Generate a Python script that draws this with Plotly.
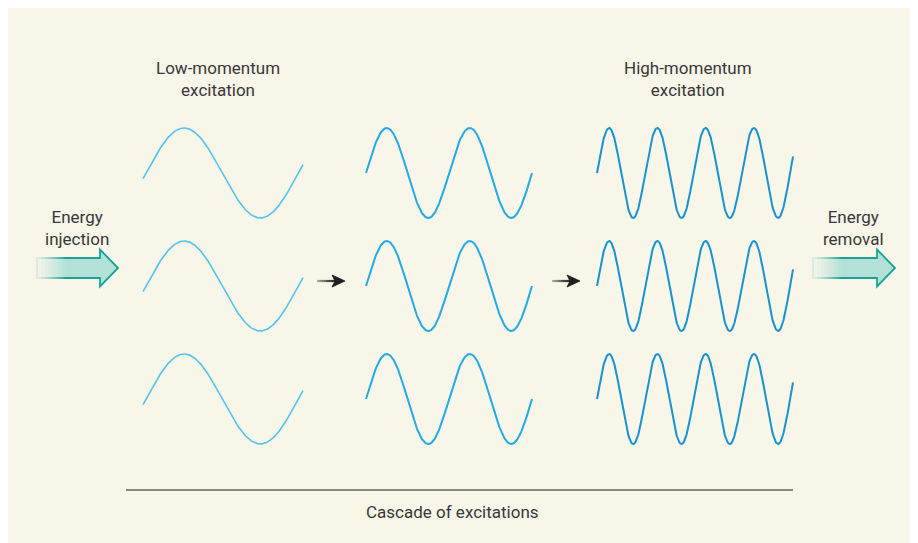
import numpy as np
import plotly.graph_objects as go

# ---- data ----
column_names = ["Low-momentum", "Intermediate", "High-momentum"]
column_cycles = [1.05, 2.0, 4.06]          # number of wave periods drawn in each column
column_phase0 = [-0.02, 0.0, 0.0]          # starting phase (in cycles)
column_x_start = [143, 366, 597]
column_x_end = [303, 532, 793]
column_colors = ["#53c4ee", "#22abe4", "#1793d2"]
column_widths = [1.6, 2.0, 2.0]
row_centers = [173, 286, 399]
amplitude = 45

top_labels = ["Low-momentum<br>excitation", "High-momentum<br>excitation"]
top_label_x = [218, 688]
side_labels = ["Energy<br>injection", "Energy<br>removal"]
side_label_x = [77, 853]
bottom_label = "Cascade of excitations"

W, H = 918, 543
OFF = 8  # page offset of the figure
BG = "#f8f5e9"
TEXT = "#383838"
TEAL_FILL = "#b4e1d7"
TEAL_LINE = "#16a595"
FONT = "Roboto, Arial"
FS = 17

fig = go.Figure()

# waves
for ci in range(3):
    xs = np.linspace(column_x_start[ci], column_x_end[ci], 400)
    ph = column_phase0[ci] + column_cycles[ci] * (xs - column_x_start[ci]) / (column_x_end[ci] - column_x_start[ci])
    for rc in row_centers:
        ys = rc - amplitude * np.sin(2 * np.pi * ph)
        fig.add_trace(go.Scatter(x=xs, y=ys, mode="lines",
                                 line=dict(color=column_colors[ci], width=column_widths[ci]),
                                 hoverinfo="skip", showlegend=False))

shapes = []

# big teal arrows
def big_arrow(x0, xb, xt, yc):
    sh_top, sh_bot = yc - 10, yc + 10
    h_top, h_bot = yc - 18.5, yc + 18.5
    path = (f"M {x0},{sh_top} L {xb},{sh_top} L {xb},{h_top} L {xt},{yc} "
            f"L {xb},{h_bot} L {xb},{sh_bot} L {x0},{sh_bot} Z")
    out = [dict(type="path", xref="x", yref="y", path=path, fillcolor=TEAL_FILL,
                line=dict(color=TEAL_LINE, width=1.8))]
    n = 24
    fade = 30
    for i in range(n):
        a = 1 - i / n
        out.append(dict(type="rect", xref="x", yref="y",
                        x0=x0 - 2 + i * fade / n, x1=x0 - 2 + (i + 1) * fade / n + 0.3,
                        y0=sh_top - 2, y1=sh_bot + 2,
                        fillcolor=BG, opacity=a, line=dict(width=0)))
    return out

shapes += big_arrow(37, 100, 118, 268)
shapes += big_arrow(813, 877, 895, 268)

# small black cascade arrows: head + fading shaft
for x0, x1 in [(317, 345), (552, 580)]:
    yc = 281
    head_len = 13
    xb = x1 - head_len
    shapes.append(dict(type="path", xref="x", yref="y",
                       path=f"M {xb},{yc-6} L {x1},{yc} L {xb},{yc+6} L {xb+3},{yc} Z",
                       fillcolor="#1e1e1e", line=dict(color="#1e1e1e", width=0.8)))
    n = 10
    seg = (xb + 3 - x0) / n
    for i in range(n):
        shapes.append(dict(type="line", xref="x", yref="y",
                           x0=x0 + i * seg, x1=x0 + (i + 1) * seg + 0.3, y0=yc, y1=yc,
                           line=dict(color="#1e1e1e", width=2.2), opacity=0.25 + 0.75 * (i + 1) / n))

# bottom rule
shapes.append(dict(type="line", xref="x", yref="y", x0=126, x1=793, y0=490, y1=490,
                   line=dict(color="#8a877d", width=2)))

annotations = []
for t, x in zip(top_labels, top_label_x):
    annotations.append(dict(x=x, y=79, xref="x", yref="y", text=t, showarrow=False,
                            font=dict(size=FS, color=TEXT, family=FONT)))
for t, x in zip(side_labels, side_label_x):
    annotations.append(dict(x=x, y=228, xref="x", yref="y", text=t, showarrow=False,
                            font=dict(size=FS, color=TEXT, family=FONT)))
annotations.append(dict(x=452, y=512, xref="x", yref="y", text=bottom_label, showarrow=False,
                        font=dict(size=FS, color=TEXT, family=FONT)))

fig.update_layout(
    width=W, height=H, margin=dict(l=0, r=0, t=0, b=0),
    paper_bgcolor=BG, plot_bgcolor=BG,
    xaxis=dict(range=[OFF, W + OFF], visible=False, fixedrange=True),
    yaxis=dict(range=[H + OFF, OFF], visible=False, fixedrange=True),
    shapes=shapes, annotations=annotations, showlegend=False,
)

fig.write_html("out.html")
